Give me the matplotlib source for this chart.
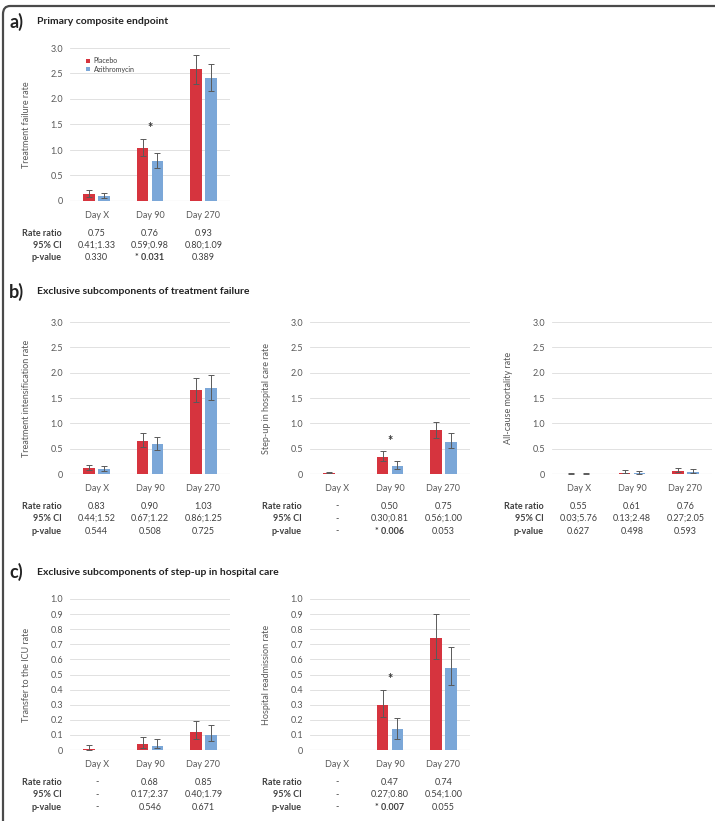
import matplotlib.pyplot as plt
import matplotlib.transforms as mtransforms
from matplotlib.patches import FancyBboxPatch

plt.rcParams["font.family"] = ["Lato", "DejaVu Sans"]

days = ["Day X", "Day 90", "Day 270"]
groups = ["Placebo", "Azithromycin"]

# panel a) primary composite endpoint
a_placebo = [0.14, 1.04, 2.58]
a_placebo_lo = [0.08, 0.88, 2.30]
a_placebo_hi = [0.21, 1.22, 2.87]
a_azi = [0.10, 0.79, 2.41]
a_azi_lo = [0.05, 0.65, 2.16]
a_azi_hi = [0.16, 0.95, 2.69]
a_rr = ["0.75", "0.76", "0.93"]
a_ci = ["0.41;1.33", "0.59;0.98", "0.80;1.09"]
a_p = ["0.330", "* 0.031", "0.389"]

# panel b) treatment intensification
b1_placebo = [0.12, 0.66, 1.65]
b1_placebo_lo = [0.07, 0.54, 1.42]
b1_placebo_hi = [0.18, 0.81, 1.89]
b1_azi = [0.10, 0.60, 1.70]
b1_azi_lo = [0.06, 0.48, 1.47]
b1_azi_hi = [0.15, 0.74, 1.95]
b1_rr = ["0.83", "0.90", "1.03"]
b1_ci = ["0.44;1.52", "0.67;1.22", "0.86;1.25"]
b1_p = ["0.544", "0.508", "0.725"]

# panel b) step-up in hospital care
b2_placebo = [0.02, 0.34, 0.86]
b2_placebo_lo = [0.01, 0.25, 0.72]
b2_placebo_hi = [0.03, 0.46, 1.03]
b2_azi = [0.0, 0.16, 0.64]
b2_azi_lo = [0.0, 0.10, 0.52]
b2_azi_hi = [0.0, 0.26, 0.80]
b2_rr = ["-", "0.50", "0.75"]
b2_ci = ["-", "0.30;0.81", "0.56;1.00"]
b2_p = ["-", "* 0.006", "0.053"]

# panel b) all-cause mortality
b3_placebo = [0.005, 0.025, 0.05]
b3_placebo_lo = [0.001, 0.01, 0.03]
b3_placebo_hi = [0.02, 0.07, 0.12]
b3_azi = [0.003, 0.015, 0.04]
b3_azi_lo = [0.001, 0.005, 0.02]
b3_azi_hi = [0.02, 0.06, 0.10]
b3_rr = ["0.55", "0.61", "0.76"]
b3_ci = ["0.03;5.76", "0.13;2.48", "0.27;2.05"]
b3_p = ["0.627", "0.498", "0.593"]

# panel c) transfer to the ICU
c1_placebo = [0.009, 0.04, 0.12]
c1_placebo_lo = [0.002, 0.015, 0.075]
c1_placebo_hi = [0.033, 0.088, 0.19]
c1_azi = [0.0, 0.029, 0.10]
c1_azi_lo = [0.0, 0.01, 0.06]
c1_azi_hi = [0.0, 0.073, 0.168]
c1_rr = ["-", "0.68", "0.85"]
c1_ci = ["-", "0.17;2.37", "0.40;1.79"]
c1_p = ["-", "0.546", "0.671"]

# panel c) hospital readmission
c2_placebo = [0.0, 0.30, 0.74]
c2_placebo_lo = [0.0, 0.22, 0.60]
c2_placebo_hi = [0.0, 0.40, 0.90]
c2_azi = [0.0, 0.14, 0.54]
c2_azi_lo = [0.0, 0.075, 0.43]
c2_azi_hi = [0.0, 0.21, 0.68]
c2_rr = ["-", "0.47", "0.74"]
c2_ci = ["-", "0.27;0.80", "0.54;1.00"]
c2_p = ["-", "* 0.007", "0.055"]

ticks_3 = [0, 0.5, 1.0, 1.5, 2.0, 2.5, 3.0]
ticks_1 = [0, 0.1, 0.2, 0.3, 0.4, 0.5, 0.6, 0.7, 0.8, 0.9, 1.0]

RED = "#d6343e"
BLUE = "#7ba7d8"
TXT = "#404040"
W, H = 715, 821


def px_axes(fig, x0, x1, ytop, ybot):
    return fig.add_axes([x0 / W, 1 - ybot / H, (x1 - x0) / W, (ybot - ytop) / H])


def draw_panel(ax, placebo, p_lo, p_hi, azi, a_lo, a_hi, ticks, ylabel,
               rr, ci, pv, star_y=None, legend=False):
    x = range(len(days))
    bw, off = 0.22, 0.14
    for vals, lo, hi, col, lab, sgn in [
        (placebo, p_lo, p_hi, RED, groups[0], -1),
        (azi, a_lo, a_hi, BLUE, groups[1], 1),
    ]:
        xs = [i + sgn * off for i in x]
        ax.bar(xs, vals, width=bw, color=col, label=lab, zorder=3)
        err = [[v - l for v, l in zip(vals, lo)], [h - v for v, h in zip(vals, hi)]]
        for xi, v, el, eh in zip(xs, vals, err[0], err[1]):
            if v == 0 and eh == 0:
                continue
            ax.errorbar(xi, v, yerr=[[el], [eh]], fmt="none", ecolor="#5a5a5a",
                        elinewidth=0.7, capsize=2, capthick=0.7, zorder=4)
    if star_y is not None:
        ax.text(1, star_y, "*", ha="center", va="center", fontsize=9,
                fontweight="bold", color="#333333")

    ax.set_xlim(-0.5, 2.5)
    ax.set_ylim(0, ticks[-1])
    ax.set_yticks(ticks)
    ax.set_yticklabels(["0"] + ["%.1f" % t for t in ticks[1:]])
    ax.set_xticks(list(x))
    ax.set_xticklabels(days)
    ax.tick_params(length=0, labelsize=6.5, labelcolor="#595959", pad=5)
    ax.tick_params(axis="x", pad=7)
    ax.grid(axis="y", color="#dcdcdc", lw=0.6, zorder=0)
    ax.set_axisbelow(True)
    for s in ax.spines.values():
        s.set_visible(False)
    ax.axhline(0, color="#c8c8c8", lw=0.8, zorder=2)
    ax.set_ylabel(ylabel, fontsize=6.5, color="#595959")
    ax.yaxis.set_label_coords(-0.245, 0.5)

    if legend:
        ax.legend(loc="upper left", bbox_to_anchor=(0.06, 0.98), frameon=False,
                  fontsize=5, handlelength=0.6, handleheight=0.6, handletextpad=0.5,
                  labelspacing=0.2, labelcolor="#404040")

    fig = ax.figure
    for row, (label, vals) in enumerate([("Rate ratio", rr), ("95% CI", ci), ("p-value", pv)]):
        dy = -(32 + 12.5 * row) / 100.0
        trans = mtransforms.blended_transform_factory(ax.transData, ax.transAxes) + \
            mtransforms.ScaledTranslation(0, dy, fig.dpi_scale_trans)
        tl = mtransforms.blended_transform_factory(ax.transAxes, ax.transAxes) + \
            mtransforms.ScaledTranslation(0, dy, fig.dpi_scale_trans)
        ax.text(-0.05, 0, label, transform=tl, ha="right", va="center",
                fontsize=6.5, fontweight="bold", color=TXT)
        for i, v in enumerate(vals):
            ax.text(i, 0, v, transform=trans, ha="center", va="center", fontsize=6.5,
                    color=TXT, fontweight="bold" if v.startswith("*") else "normal")


fig = plt.figure(figsize=(W / 100, H / 100), dpi=100)

# border
fig.patches.append(FancyBboxPatch((3 / W, -0.05), 1.05, 1 - 6 / H + 0.05,
                                  boxstyle="round,pad=0,rounding_size=0.01",
                                  transform=fig.transFigure, fill=False,
                                  ec="#4a4a4a", lw=1.6))

for letter, title, y in [("a)", "Primary composite endpoint", 22),
                         ("b)", "Exclusive subcomponents of treatment failure", 292),
                         ("c)", "Exclusive subcomponents of step-up in hospital care", 572)]:
    fig.text(9 / W, 1 - y / H, letter, fontsize=13, fontweight="bold", va="center", color="#222222")
    fig.text(37 / W, 1 - y / H, title, fontsize=7.5, fontweight="bold", va="center", color="#222222")

ax = px_axes(fig, 70, 230, 48, 201)
draw_panel(ax, a_placebo, a_placebo_lo, a_placebo_hi, a_azi, a_azi_lo, a_azi_hi,
           ticks_3, "Treatment failure rate", a_rr, a_ci, a_p, star_y=1.43, legend=True)

ax = px_axes(fig, 70, 230, 322, 474)
draw_panel(ax, b1_placebo, b1_placebo_lo, b1_placebo_hi, b1_azi, b1_azi_lo, b1_azi_hi,
           ticks_3, "Treatment intensification rate", b1_rr, b1_ci, b1_p)

ax = px_axes(fig, 310, 470, 322, 474)
draw_panel(ax, b2_placebo, b2_placebo_lo, b2_placebo_hi, b2_azi, b2_azi_lo, b2_azi_hi,
           ticks_3, "Step-up in hospital care rate", b2_rr, b2_ci, b2_p, star_y=0.66)

ax = px_axes(fig, 552, 712, 322, 474)
draw_panel(ax, b3_placebo, b3_placebo_lo, b3_placebo_hi, b3_azi, b3_azi_lo, b3_azi_hi,
           ticks_3, "All-cause mortality rate", b3_rr, b3_ci, b3_p)

ax = px_axes(fig, 70, 230, 599, 750)
draw_panel(ax, c1_placebo, c1_placebo_lo, c1_placebo_hi, c1_azi, c1_azi_lo, c1_azi_hi,
           ticks_1, "Transfer to the ICU rate", c1_rr, c1_ci, c1_p)

ax = px_axes(fig, 310, 470, 599, 750)
draw_panel(ax, c2_placebo, c2_placebo_lo, c2_placebo_hi, c2_azi, c2_azi_lo, c2_azi_hi,
           ticks_1, "Hospital readmission rate", c2_rr, c2_ci, c2_p, star_y=0.47)

fig.savefig("out.png", dpi=100)
